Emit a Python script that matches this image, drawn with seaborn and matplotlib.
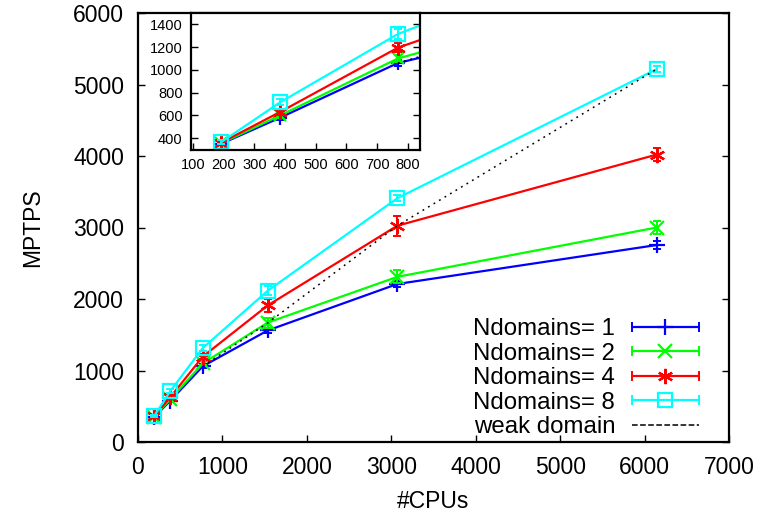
import numpy as np
import pandas as pd
import matplotlib
matplotlib.use("Agg")
import matplotlib.pyplot as plt
import seaborn as sns
from matplotlib.lines import Line2D
from matplotlib.legend_handler import HandlerBase

# ---- data ----
cpus = [192, 384, 768, 1536, 3072, 6144]
nd1 = [350, 580, 1060, 1560, 2210, 2755]
nd2 = [355, 600, 1100, 1670, 2310, 3000]
nd4 = [360, 630, 1195, 1910, 3025, 4020]
nd8 = [365, 715, 1315, 2115, 3410, 5215]
err1 = [15, 20, 25, 30, 40, 50]
err2 = [15, 20, 30, 70, 90, 90]
err4 = [15, 25, 40, 90, 140, 90]
err8 = [15, 25, 40, 60, 40, 40]
weak_cpus = [768, 1536, 3072, 6144]
weak_vals = [1060, 1665, 3025, 5215]
labels = ["Ndomains= 1", "Ndomains= 2", "Ndomains= 4", "Ndomains= 8"]
main_xticks = [0, 1000, 2000, 3000, 4000, 5000, 6000, 7000]
main_yticks = [0, 1000, 2000, 3000, 4000, 5000, 6000]
inset_xticks = [100, 200, 300, 400, 500, 600, 700, 800]
inset_yticks = [400, 600, 800, 1000, 1200, 1400]

colors = ["#0000ff", "#00ff00", "#ff0000", "#00ffff"]
markers = ["+", "x", (6, 2, 0), "s"]
msizes = [11, 9.5, 11, 10]

series = [nd1, nd2, nd4, nd8]
errs = [err1, err2, err4, err8]

df = pd.concat([
    pd.DataFrame({"cpus": cpus, "mptps": s, "err": e, "series": l})
    for s, e, l in zip(series, errs, labels)
], ignore_index=True)
weak_df = pd.DataFrame({"cpus": weak_cpus, "mptps": weak_vals})

sns.set_style("ticks")
plt.rcParams["font.family"] = ["Liberation Sans", "DejaVu Sans"]
for k in ["text.color", "axes.labelcolor", "xtick.color", "ytick.color", "axes.edgecolor"]:
    plt.rcParams[k] = "black"

FS = 16.5
LFS = 17.3
fig = plt.figure(figsize=(7.67, 5.17), dpi=100)
ax = fig.add_axes([138 / 767, 1 - 442 / 517, (729 - 138) / 767, (442 - 13) / 517])
axin = fig.add_axes([191 / 767, 1 - 150 / 517, (420 - 191) / 767, (150 - 13) / 517])


def draw(a, ms_scale=1.0):
    for (lab, col, mk, ms), s, e in zip(zip(labels, colors, markers, msizes), series, errs):
        sub = df[df["series"] == lab]
        sns.lineplot(data=sub, x="cpus", y="mptps", ax=a, color=col, lw=1.6,
                     marker=mk, markersize=ms * ms_scale, markeredgewidth=1.6,
                     markerfacecolor="none" if mk == "s" else col,
                     markeredgecolor=col, legend=False, errorbar=None, clip_on=True)
        a.errorbar(sub["cpus"], sub["mptps"], yerr=sub["err"], fmt="none",
                   ecolor=col, elinewidth=1.4, capsize=3, capthick=1.4)
    sns.lineplot(data=weak_df, x="cpus", y="mptps", ax=a, color="black", lw=1.1,
                 linestyle=(0, (1.2, 3)), legend=False, errorbar=None)


draw(ax)
ax.set_xlim(0, 7000)
ax.set_ylim(0, 6000)
ax.set_xticks(main_xticks)
ax.set_yticks(main_yticks)
ax.set_xlabel("#CPUs", fontsize=FS, labelpad=8)
ax.set_ylabel("MPTPS", fontsize=FS, labelpad=21)
ax.tick_params(axis="both", direction="in", length=5, width=1, labelsize=FS, pad=10,
               top=False, right=True, colors="black")
for sp in ax.spines.values():
    sp.set_linewidth(1.6)
    sp.set_color("black")
    sp.set_visible(True)

draw(axin, 0.95)
axin.set_xlim(93, 840)
axin.set_ylim(295, 1500)
axin.set_xticks(inset_xticks)
axin.set_yticks(inset_yticks)
axin.set_xlabel("")
axin.set_ylabel("")
axin.tick_params(axis="both", direction="in", length=5, width=1, labelsize=10.5, pad=6,
                 top=False, right=True, colors="black")
for sp in axin.spines.values():
    sp.set_linewidth(1.6)
    sp.set_color("black")
    sp.set_visible(True)


class CapLineHandler(HandlerBase):
    def create_artists(self, legend, orig_handle, xdescent, ydescent, width, height,
                       fontsize, trans):
        y = height / 2 - ydescent
        x0, x1 = -xdescent, width - xdescent
        col = orig_handle.get_color()
        ls = orig_handle.get_linestyle()
        lw = orig_handle.get_linewidth()
        arts = [Line2D([x0, x1], [y, y], color=col, lw=lw, linestyle=ls)]
        if orig_handle.get_marker() not in (None, "None", "none", ""):
            arts.append(Line2D([x0, x1], [y, y], ls="none", marker="|", ms=7,
                               mew=1.4, color=col))
            mk = orig_handle.get_marker()
            arts.append(Line2D([(x0 + x1) / 2], [y], ls="none", marker=mk,
                               ms=orig_handle.get_markersize(), mew=1.6, color=col,
                               markerfacecolor=orig_handle.get_markerfacecolor()))
        for a in arts:
            a.set_transform(trans)
        return arts


handles = []
for lab, col, mk, ms in zip(labels, colors, markers, msizes):
    handles.append(Line2D([], [], color=col, lw=1.6, marker=mk, markersize=ms,
                          markerfacecolor="none" if mk == "s" else col))
handles.append(Line2D([], [], color="black", lw=1.1, linestyle=(0, (1.2, 3))))
leg_labels = labels + ["weak domain"]
leg = ax.legend(handles, leg_labels, loc="lower right", bbox_to_anchor=(699 / 767, 1 - 438 / 517),
                bbox_transform=fig.transFigure, frameon=False, fontsize=LFS, markerfirst=False,
                handlelength=67 / 24, handletextpad=0.7, labelspacing=0.1, borderpad=0,
                borderaxespad=0, handler_map={Line2D: CapLineHandler()})
for t in leg.get_texts():
    t.set_color("black")

fig.savefig("out.png", dpi=100)
